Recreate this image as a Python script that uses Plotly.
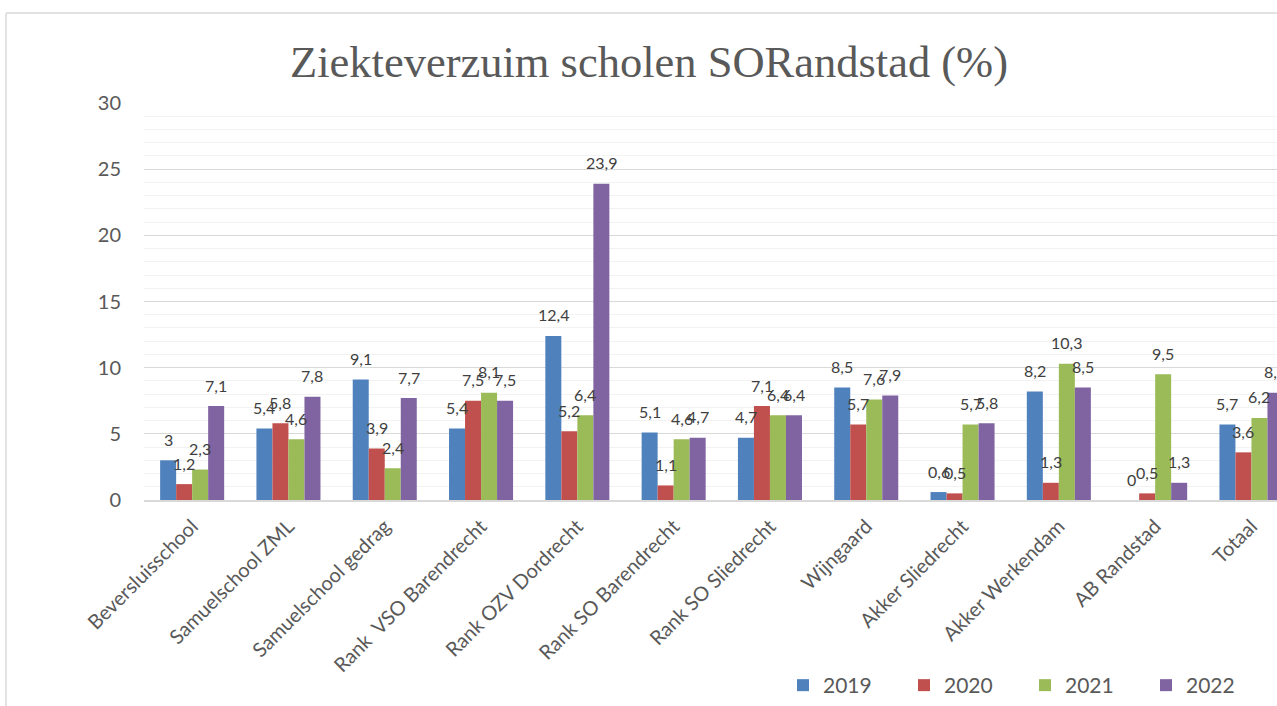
import plotly.graph_objects as go

categories = ["Beversluisschool", "Samuelschool ZML", "Samuelschool gedrag", "Rank  VSO Barendrecht",
              "Rank OZV Dordrecht", "Rank SO Barendrecht", "Rank SO Sliedrecht", "Wijngaard",
              "Akker Sliedrecht", "Akker Werkendam", "AB Randstad", "Totaal"]
years = ["2019", "2020", "2021", "2022"]
v2019 = [3, 5.4, 9.1, 5.4, 12.4, 5.1, 4.7, 8.5, 0.6, 8.2, 0, 5.7]
v2020 = [1.2, 5.8, 3.9, 7.5, 5.2, 1.1, 7.1, 5.7, 0.5, 1.3, 0.5, 3.6]
v2021 = [2.3, 4.6, 2.4, 8.1, 6.4, 4.6, 6.4, 7.6, 5.7, 10.3, 9.5, 6.2]
v2022 = [7.1, 7.8, 7.7, 7.5, 23.9, 4.7, 6.4, 7.9, 5.8, 8.5, 1.3, 8.1]
series = [v2019, v2020, v2021, v2022]
colors = ["#4F81BD", "#C0504D", "#9BBB59", "#8064A2"]

W, H = 1277, 706
L, T, B = 144, 103, 206
PLOT_W = W - L
PLOT_H = H - T - B
CAT_PX = 96.3
BARGAP = 0.335
x_hi = -0.5 + PLOT_W / CAT_PX

def fmt(v):
    return f"{v:g}".replace(".", ",")

fig = go.Figure()
for name, vals, col in zip(years, series, colors):
    fig.add_trace(go.Bar(name=name, x=categories, y=vals, marker=dict(color=col, line=dict(width=0))))

bar_px = CAT_PX * (1 - BARGAP) / len(series)
annotations = []
for i, vals in enumerate(series):
    shift = (i - (len(series) - 1) / 2) * bar_px
    for c, v in zip(categories, vals):
        annotations.append(dict(x=c, y=v, xref="x", yref="y", text=fmt(v), showarrow=False,
                                xshift=shift, yshift=21, yanchor="middle", xanchor="center",
                                font=dict(family="Lato", size=16, color="#404040")))

def px_x(p):
    return (p - L) / PLOT_W

def px_y(p):
    return (H - B - p) / PLOT_H

frame_col = "#D9D9D9"
shapes = [
    dict(type="line", xref="paper", yref="paper", x0=px_x(6), x1=px_x(6), y0=px_y(13), y1=px_y(H + 5),
         line=dict(color=frame_col, width=1.5)),
    dict(type="line", xref="paper", yref="paper", x0=px_x(6), x1=px_x(W + 5), y0=px_y(13), y1=px_y(13),
         line=dict(color=frame_col, width=1.5)),
]

fig.update_layout(
    width=W, height=H,
    margin=dict(l=L, r=0, t=T, b=B),
    paper_bgcolor="white", plot_bgcolor="white",
    barmode="group", bargap=BARGAP, bargroupgap=0,
    title=dict(text="Ziekteverzuim scholen SORandstad (%)", x=649 / W, xref="container", xanchor="center",
               y=1 - 61 / H, yref="container", yanchor="middle",
               font=dict(family="Liberation Serif", size=44.5, color="#595959")),
    font=dict(family="Lato", color="#595959"),
    legend=dict(orientation="h", x=px_x(783), xanchor="left", y=px_y(686), yanchor="middle",
                font=dict(family="Lato", size=21, color="#595959"), entrywidth=76,
                traceorder="normal", bgcolor="rgba(0,0,0,0)"),
    annotations=annotations,
    shapes=shapes,
)
fig.update_xaxes(range=[-0.5, x_hi], tickangle=-45, tickfont=dict(family="Lato", size=20, color="#595959"),
                 showline=True, linecolor="#D9D9D9", linewidth=1.5, showgrid=False, ticks="",
                 ticklabelstandoff=5, fixedrange=True)
fig.update_yaxes(range=[0, 30], dtick=5, tickfont=dict(family="Lato", size=20, color="#595959"),
                 showgrid=True, gridcolor="#D9D9D9", gridwidth=1, zeroline=False,
                 minor=dict(dtick=1, showgrid=True, gridcolor="#F2F2F2", gridwidth=1),
                 ticks="", ticklabelstandoff=22, showline=False)

fig.write_html("out.html", config={"displayModeBar": False},
               post_script="document.body.style.margin='0';document.body.style.overflow='hidden';")
